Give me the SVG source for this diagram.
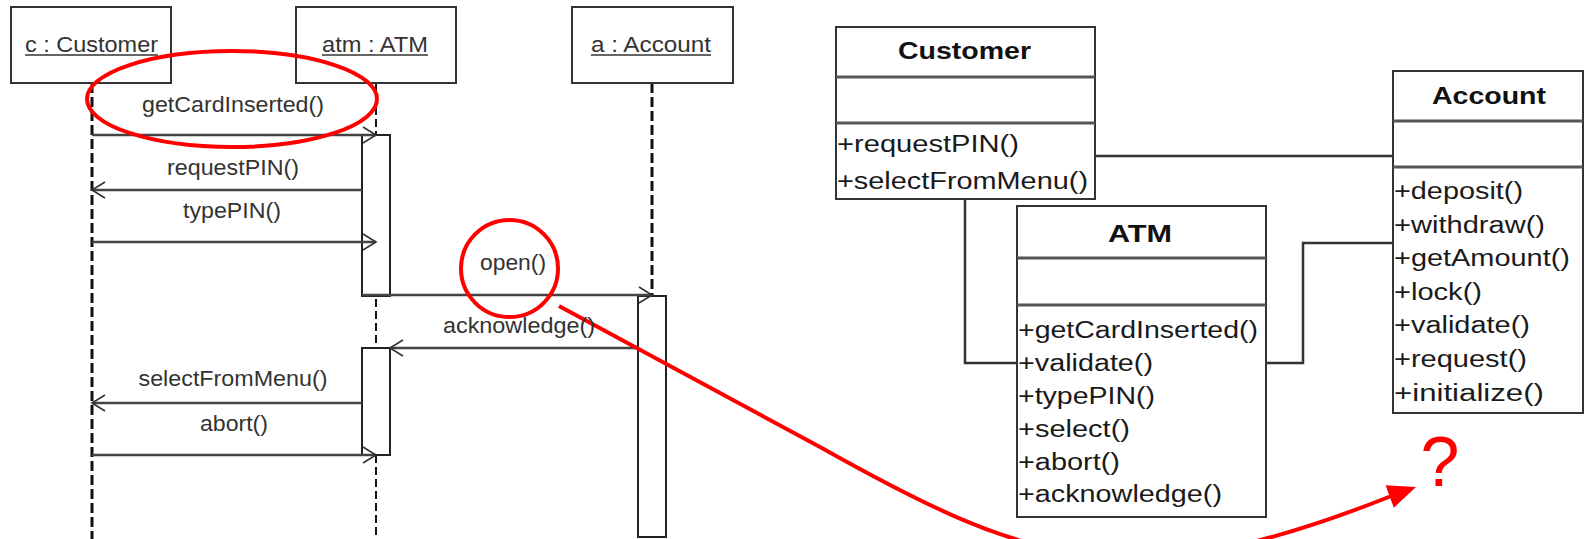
<svg xmlns="http://www.w3.org/2000/svg" width="1585" height="539" viewBox="0 0 1585 539">
<defs>
<style>
.bg{fill:#fff}
.box{fill:#fff;stroke:#333;stroke-width:2}
.bar{fill:#fff;stroke:#222;stroke-width:2}
.div{stroke:#555;stroke-width:3}
.life{stroke:#111;stroke-width:3;stroke-dasharray:10 4;fill:none}
.life2{stroke:#111;stroke-width:2;stroke-dasharray:8 4;fill:none}
.t{font-family:"Liberation Sans",Arial,sans-serif;fill:#333;font-size:22px}
.c{font-family:"Liberation Sans",Arial,sans-serif;fill:#1a1a1a;font-size:23px}
.b{font-weight:bold;fill:#111}
.ul{stroke:#333;stroke-width:1.5}
.msg{stroke:#444;stroke-width:2.5;fill:none;marker-end:url(#open)}
.assoc{stroke:#333;stroke-width:2.5;fill:none}
.red{stroke:#f00;stroke-width:4;fill:none}
</style>
<marker id="open" markerUnits="userSpaceOnUse" markerWidth="18" markerHeight="22" refX="15" refY="10" orient="auto">
<path d="M2,2 L15,10 L2,18" fill="none" stroke="#333" stroke-width="1.6"/>
</marker>
</defs>
<rect class="bg" x="0" y="0" width="1585" height="539"/>

<!-- sequence diagram objects -->
<g id="seq-customer">
<line class="life" x1="92" y1="83" x2="92" y2="539"/>
<rect class="box" x="11" y="7" width="160" height="76"/>
<text class="t" x="91.5" y="52" text-anchor="middle" textLength="133" lengthAdjust="spacingAndGlyphs">c : Customer</text>
<line class="ul" x1="25" y1="55" x2="158" y2="55"/>
</g>
<g id="seq-atm">
<line class="life2" x1="376" y1="83" x2="376" y2="539"/>
<rect class="box" x="296" y="7" width="160" height="76"/>
<text class="t" x="375" y="52" text-anchor="middle" textLength="106" lengthAdjust="spacingAndGlyphs">atm : ATM</text>
<line class="ul" x1="322" y1="55" x2="428" y2="55"/>
<rect class="bar" x="362" y="135" width="28" height="161"/>
<rect class="bar" x="362" y="348" width="28" height="107"/>
</g>
<g id="seq-account">
<line class="life" x1="652" y1="83" x2="652" y2="296"/>
<rect class="box" x="572" y="7" width="161" height="76"/>
<text class="t" x="651" y="52" text-anchor="middle" textLength="120" lengthAdjust="spacingAndGlyphs">a : Account</text>
<line class="ul" x1="591" y1="55" x2="711" y2="55"/>
<rect class="bar" x="638" y="296" width="28" height="241"/>
</g>

<!-- class diagram -->
<g id="class-customer">
<rect class="box" x="836" y="27" width="259" height="172"/>
<line class="div" x1="836" y1="77" x2="1095" y2="77"/>
<line class="div" x1="836" y1="123" x2="1095" y2="123"/>
<text class="c b" x="964.5" y="59" text-anchor="middle" textLength="133" lengthAdjust="spacingAndGlyphs">Customer</text>
<text class="c" x="837" y="152" textLength="182" lengthAdjust="spacingAndGlyphs">+requestPIN()</text>
<text class="c" x="837" y="189" textLength="251" lengthAdjust="spacingAndGlyphs">+selectFromMenu()</text>
</g>
<g id="class-atm">
<rect class="box" x="1017" y="206" width="249" height="311"/>
<line class="div" x1="1017" y1="258" x2="1266" y2="258"/>
<line class="div" x1="1017" y1="305" x2="1266" y2="305"/>
<text class="c b" x="1140" y="242" text-anchor="middle" textLength="64" lengthAdjust="spacingAndGlyphs">ATM</text>
<text class="c" x="1018" y="338" textLength="240" lengthAdjust="spacingAndGlyphs">+getCardInserted()</text>
<text class="c" x="1018" y="371" textLength="135" lengthAdjust="spacingAndGlyphs">+validate()</text>
<text class="c" x="1018" y="404" textLength="137" lengthAdjust="spacingAndGlyphs">+typePIN()</text>
<text class="c" x="1018" y="437" textLength="112" lengthAdjust="spacingAndGlyphs">+select()</text>
<text class="c" x="1018" y="470" textLength="102" lengthAdjust="spacingAndGlyphs">+abort()</text>
<text class="c" x="1018" y="502" textLength="204" lengthAdjust="spacingAndGlyphs">+acknowledge()</text>
</g>
<g id="class-account">
<rect class="box" x="1393" y="71" width="190" height="342"/>
<line class="div" x1="1393" y1="121" x2="1583" y2="121"/>
<line class="div" x1="1393" y1="167" x2="1583" y2="167"/>
<text class="c b" x="1489" y="104" text-anchor="middle" textLength="114" lengthAdjust="spacingAndGlyphs">Account</text>
<text class="c" x="1394" y="199" textLength="129" lengthAdjust="spacingAndGlyphs">+deposit()</text>
<text class="c" x="1394" y="233" textLength="151" lengthAdjust="spacingAndGlyphs">+withdraw()</text>
<text class="c" x="1394" y="266" textLength="176" lengthAdjust="spacingAndGlyphs">+getAmount()</text>
<text class="c" x="1394" y="300" textLength="88" lengthAdjust="spacingAndGlyphs">+lock()</text>
<text class="c" x="1394" y="333" textLength="136" lengthAdjust="spacingAndGlyphs">+validate()</text>
<text class="c" x="1394" y="367" textLength="133" lengthAdjust="spacingAndGlyphs">+request()</text>
<text class="c" x="1394" y="401" textLength="150" lengthAdjust="spacingAndGlyphs">+initialize()</text>
</g>

<!-- connectors -->
<g id="connectors">
<path class="msg" d="M92,135 H376"/>
<path class="msg" d="M362,190 H92"/>
<path class="msg" d="M92,242 H376"/>
<path class="msg" d="M362,295 H652"/>
<path class="msg" d="M638,348 H390"/>
<path class="msg" d="M362,403 H92"/>
<path class="msg" d="M92,455 H376"/>
<path class="assoc" d="M1095,156 H1393"/>
<path class="assoc" d="M965,199 V363 H1017"/>
<path class="assoc" d="M1266,363 H1303 V243 H1393"/>
<path class="red" d="M559,306 L820,447 C1030,565 1130,600 1390,496.5"/>
<polygon points="1416,487 1385.6,485.2 1393.8,507.8" fill="#f00"/>
</g>

<!-- message labels -->
<g id="message-labels">
<text class="t" x="233" y="112" text-anchor="middle" textLength="182" lengthAdjust="spacingAndGlyphs">getCardInserted()</text>
<text class="t" x="233" y="175" text-anchor="middle" textLength="132" lengthAdjust="spacingAndGlyphs">requestPIN()</text>
<text class="t" x="232" y="218" text-anchor="middle" textLength="98" lengthAdjust="spacingAndGlyphs">typePIN()</text>
<text class="t" x="513" y="270" text-anchor="middle" textLength="66" lengthAdjust="spacingAndGlyphs">open()</text>
<text class="t" x="519" y="333" text-anchor="middle" textLength="152" lengthAdjust="spacingAndGlyphs">acknowledge()</text>
<text class="t" x="233" y="386" text-anchor="middle" textLength="189" lengthAdjust="spacingAndGlyphs">selectFromMenu()</text>
<text class="t" x="234" y="431" text-anchor="middle" textLength="68" lengthAdjust="spacingAndGlyphs">abort()</text>
</g>

<!-- red annotations -->
<g id="annotations">
<ellipse class="red" cx="232" cy="99" rx="145" ry="48"/>
<circle class="red" cx="509.5" cy="268.5" r="48.5"/>
<text x="1440" y="486" text-anchor="middle" font-family="Liberation Sans, Arial, sans-serif" font-size="70" fill="#f00">?</text>
</g>
</svg>
